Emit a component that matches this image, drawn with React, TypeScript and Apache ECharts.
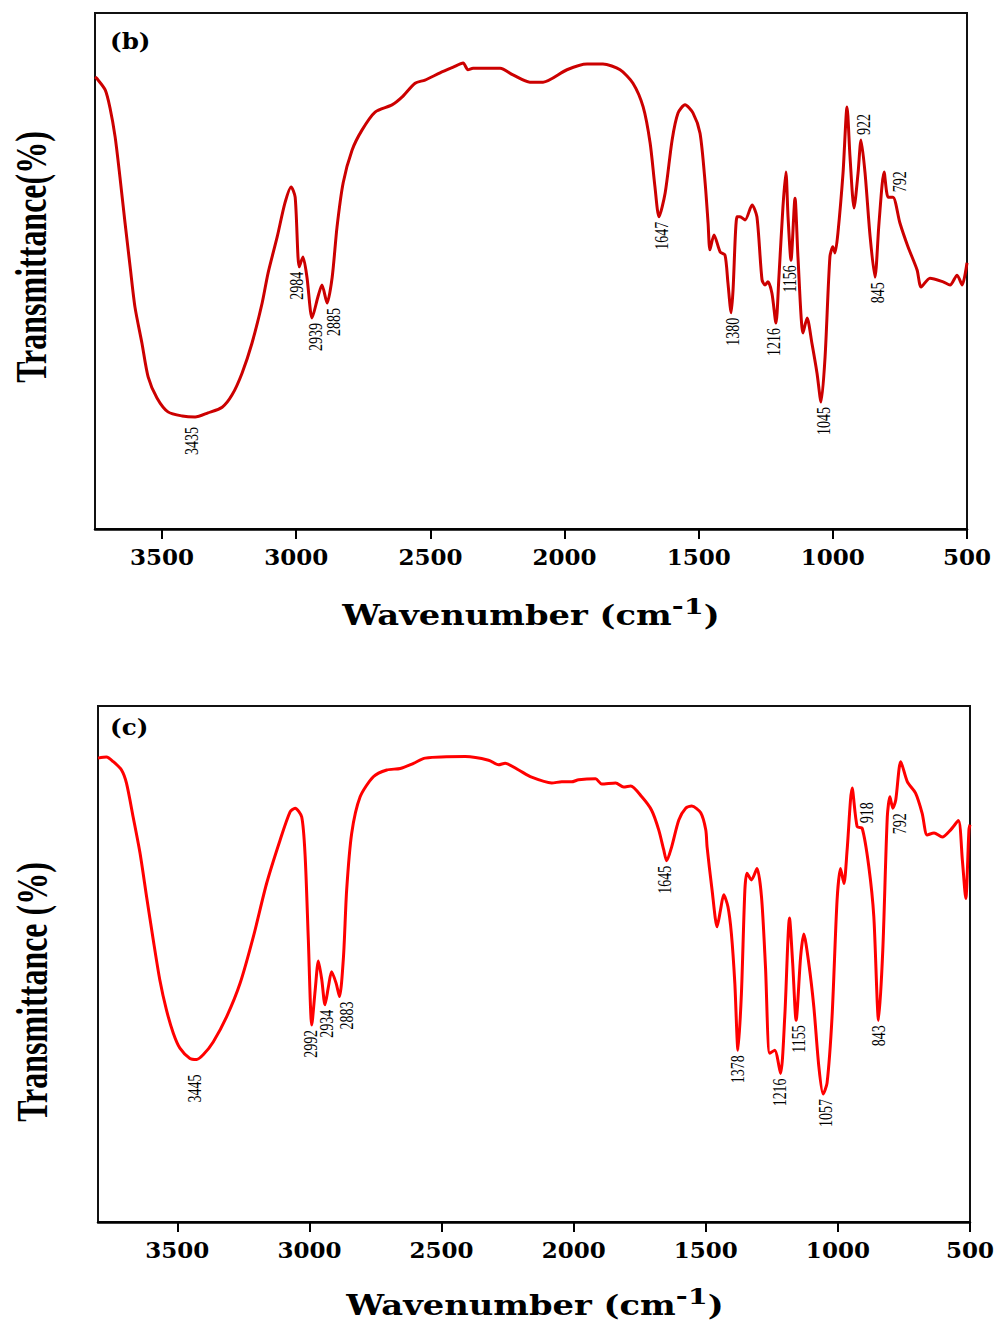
import React, { useEffect, useRef } from 'react';
import * as echarts from 'echarts';

// Tick values on both wavenumber axes
const X_TICKS = [500, 1000, 1500, 2000, 2500, 3000, 3500];

// Panel (b) spectrum: [wavenumber (cm-1), transmittance (arb. %)]
const SPECTRUM_B: [number, number][] = [
  [3750, 87.6], [3743, 87.3], [3712, 85.1], [3694, 81.6], [3675, 76.0], [3657, 68.2], [3638, 59.3],
  [3619, 50.8], [3601, 43.0], [3575, 36.0], [3552, 29.5], [3519, 25.4], [3478, 22.7], [3425, 21.9],
  [3377, 21.7], [3329, 22.5], [3276, 23.6], [3239, 26.0], [3202, 30.2], [3165, 36.0], [3127, 43.8],
  [3105, 49.6], [3071, 56.6], [3042, 63.2], [3019, 66.3], [3004, 64.3], [2989, 50.8], [2975, 52.7],
  [2960, 48.8], [2941, 40.9], [2919, 45.0], [2904, 47.3], [2885, 43.8], [2866, 48.8], [2848, 58.5],
  [2825, 67.1], [2792, 73.4], [2755, 77.3], [2706, 80.8], [2643, 82.2], [2606, 83.7], [2557, 86.4],
  [2520, 87.0], [2464, 88.4], [2415, 89.5], [2378, 90.3], [2360, 89.0], [2341, 89.3], [2266, 89.3],
  [2240, 89.3], [2192, 88.0], [2129, 86.6], [2080, 86.6], [1991, 89.0], [1916, 90.1], [1857, 90.1],
  [1793, 89.0], [1745, 86.4], [1707, 81.8], [1681, 74.8], [1663, 66.3], [1648, 60.5], [1625, 65.1],
  [1599, 75.4], [1577, 80.6], [1551, 82.2], [1521, 80.6], [1495, 76.7], [1476, 67.1], [1465, 59.3],
  [1458, 54.1], [1443, 57.0], [1420, 53.7], [1402, 53.1], [1391, 47.7], [1379, 41.9], [1372, 46.3],
  [1357, 60.5], [1346, 60.5], [1327, 59.9], [1301, 62.8], [1283, 60.5], [1264, 48.3], [1253, 47.3],
  [1242, 47.9], [1227, 45.7], [1212, 39.9], [1201, 48.8], [1186, 62.4], [1175, 69.2], [1167, 60.5],
  [1156, 52.1], [1141, 64.1], [1130, 52.7], [1111, 38.0], [1096, 40.9], [1078, 36.0], [1059, 30.2],
  [1044, 24.6], [1029, 33.3], [1011, 52.7], [1000, 54.7], [992, 53.5], [981, 57.4], [962, 69.0],
  [947, 81.8], [936, 72.1], [921, 62.2], [906, 69.0], [895, 75.4], [880, 69.0], [861, 56.6],
  [843, 48.8], [828, 59.3], [809, 69.2], [794, 64.3], [776, 64.3], [750, 59.3], [720, 54.7],
  [686, 50.2], [671, 46.9], [638, 48.6], [589, 47.9], [563, 47.3], [537, 49.2], [518, 47.3], [500, 51.6],
];

// Panel (c) spectrum
const SPECTRUM_C: [number, number][] = [
  [3800, 89.9], [3768, 90.1], [3742, 89.2], [3711, 87.6], [3692, 85.0], [3667, 78.5], [3641, 71.5],
  [3616, 63.0], [3591, 54.7], [3566, 46.9], [3541, 41.1], [3515, 36.6], [3490, 33.7], [3452, 31.7],
  [3427, 31.5], [3402, 32.4], [3364, 34.9], [3313, 39.8], [3262, 46.3], [3212, 55.3], [3162, 65.6],
  [3111, 74.0], [3073, 79.5], [3054, 80.2], [3029, 78.5], [3016, 70.8], [3004, 54.7], [2991, 38.2],
  [2978, 45.0], [2966, 50.6], [2953, 46.9], [2941, 42.1], [2928, 45.6], [2916, 48.5], [2899, 46.3],
  [2886, 43.7], [2871, 51.4], [2859, 64.3], [2840, 75.3], [2808, 82.4], [2758, 86.3], [2707, 87.6],
  [2656, 87.9], [2606, 88.9], [2562, 89.9], [2410, 90.2], [2322, 89.5], [2284, 88.6], [2259, 88.9],
  [2208, 87.6], [2159, 86.2], [2083, 85.1], [2045, 85.3], [2008, 85.3], [1981, 85.7], [1917, 85.9],
  [1894, 84.9], [1841, 85.1], [1811, 84.3], [1784, 84.5], [1742, 82.4], [1705, 79.8], [1678, 76.0],
  [1659, 72.1], [1648, 70.0], [1629, 72.7], [1602, 77.9], [1576, 80.2], [1553, 80.6], [1519, 79.3],
  [1500, 76.0], [1495, 72.7], [1476, 64.3], [1457, 57.2], [1444, 60.5], [1432, 63.4], [1416, 61.1],
  [1403, 55.9], [1390, 46.3], [1378, 33.3], [1365, 44.3], [1352, 64.3], [1344, 67.6], [1327, 66.3],
  [1306, 68.5], [1289, 63.0], [1274, 49.5], [1258, 32.7], [1239, 33.3], [1217, 28.8], [1201, 39.8],
  [1183, 58.9], [1171, 50.1], [1158, 39.1], [1141, 51.4], [1129, 55.8], [1110, 50.1], [1091, 41.7],
  [1072, 30.1], [1056, 24.8], [1041, 26.9], [1022, 39.8], [1003, 62.4], [990, 68.5], [977, 65.6],
  [965, 72.1], [946, 84.1], [927, 76.6], [908, 76.3], [883, 68.9], [864, 59.2], [846, 39.1],
  [830, 52.7], [813, 78.5], [803, 82.4], [792, 80.2], [781, 81.8], [762, 89.2], [737, 85.3],
  [706, 83.1], [681, 79.2], [662, 75.0], [636, 75.4], [605, 74.6], [573, 76.0], [544, 77.8],
  [529, 70.2], [516, 62.7], [504, 76.0], [500, 77.0],
];

// Peak annotations: [label text, wavenumber where it sits on the plotted curve, side]
type Side = 'below' | 'above';
const PEAKS_B: [string, number, Side][] = [
  ['3435', 3388, 'below'], ['2984', 2997, 'below'], ['2939', 2926, 'below'], ['2885', 2859, 'below'],
  ['1647', 1637, 'below'], ['1380', 1372, 'below'], ['1216', 1216, 'below'], ['1156', 1160, 'below'],
  ['1045', 1033, 'below'], ['845', 832, 'below'], ['922', 884, 'above'], ['792', 750, 'above'],
];
const PEAKS_C: [string, number, Side][] = [
  ['3445', 3432, 'below'], ['2992', 2992, 'below'], ['2934', 2932, 'below'], ['2883', 2856, 'below'],
  ['1645', 1652, 'below'], ['1378', 1375, 'below'], ['1216', 1216, 'below'], ['1155', 1144, 'below'],
  ['1057', 1042, 'below'], ['843', 841, 'below'], ['918', 890, 'above'], ['792', 765, 'below'],
];

const LABEL_GAP: Record<string, number> = { '3435': 10, '3445': 15 };

const TICK_FONT = 'DejaVu Serif';

function xAxis(gridIndex: number, max: number) {
  return {
    type: 'value',
    gridIndex,
    min: 500,
    max,
    interval: 500,
    inverse: true,
    axisLine: { show: true, onZero: false, lineStyle: { color: '#000', width: 2.5 } },
    axisTick: { show: true, length: 10, inside: false, customValues: X_TICKS, lineStyle: { color: '#000', width: 2 } },
    axisLabel: {
      show: true, margin: 16, color: '#000', fontFamily: TICK_FONT, fontWeight: 'bold', fontSize: 23,
      customValues: X_TICKS,
      formatter: (v: number) => (v % 500 === 0 ? String(v) : ''),
    },
    splitLine: { show: false },
  };
}

function yAxis(gridIndex: number) {
  return { type: 'value', gridIndex, min: 0, max: 100, show: false };
}

export default function App() {
  const ref = useRef<HTMLDivElement>(null);

  useEffect(() => {
    document.body.style.margin = '0';
    const chart = echarts.init(ref.current!, null, { renderer: 'svg' });
    const option: any = {
      animation: false,
      backgroundColor: '#ffffff',
      grid: [
        { left: 95, top: 13, width: 872, height: 516, show: true, borderColor: '#111', borderWidth: 2 },
        { left: 98, top: 706, width: 873, height: 516, show: true, borderColor: '#111', borderWidth: 2 },
      ],
      xAxis: [xAxis(0, 3750), xAxis(1, 3800)],
      yAxis: [yAxis(0), yAxis(1)],
      series: [
        {
          type: 'line', xAxisIndex: 0, yAxisIndex: 0, data: SPECTRUM_B, showSymbol: false, symbol: 'none',
          smooth: 0.25, lineStyle: { color: '#cc0000', width: 3 },
        },
        {
          type: 'line', xAxisIndex: 1, yAxisIndex: 1, data: SPECTRUM_C, showSymbol: false, symbol: 'none',
          smooth: 0.25, lineStyle: { color: '#ff0000', width: 3 },
        },
      ],
    };
    chart.setOption(option);

    const peakLabels = (peaks: [string, number, Side][], data: [number, number][], idx: number) =>
      peaks.map(([text, wn, side]) => {
        const near = data.filter((p) => Math.abs(p[0] - wn) <= 30).map((p) => p[1]);
        const val = side === 'below' ? Math.min(...near) : Math.max(...near);
        const [px, py] = chart.convertToPixel({ xAxisIndex: idx, yAxisIndex: idx }, [wn, val]) as number[];
        const gap = LABEL_GAP[text] ?? 5;
        const align = side === 'below' ? 'right' : 'left';
        return {
          type: 'text',
          x: px,
          y: side === 'below' ? py + gap : py - gap,
          rotation: Math.PI / 2,
          scaleY: 1.3,
          style: {
            text, fill: '#000', fontSize: 14, fontFamily: 'Liberation Serif',
            align, verticalAlign: 'middle', textAlign: align, textVerticalAlign: 'middle',
          },
        };
      });

    const xTitle = (cx: number, cy: number) => ({
      type: 'text',
      x: cx,
      y: cy,
      scaleX: 1.25,
      style: {
        text: '{m|Wavenumber (cm}{s|-1}{m|)}',
        align: 'center', verticalAlign: 'middle', textAlign: 'center', textVerticalAlign: 'middle',
        rich: {
          m: { fontSize: 27, fontFamily: TICK_FONT, fontWeight: 'bold', fill: '#000', lineHeight: 34, verticalAlign: 'bottom' },
          s: { fontSize: 23, fontFamily: TICK_FONT, fontWeight: 'bold', fill: '#000', lineHeight: 23, verticalAlign: 'top' },
        },
      },
    });

    const yTitle = (text: string, cx: number, cy: number) => ({
      type: 'text',
      x: cx,
      y: cy,
      rotation: Math.PI / 2,
      scaleY: 1.38,
      style: {
        text, fill: '#000', fontSize: 32, fontFamily: 'Liberation Serif', fontWeight: 'bold',
        align: 'center', verticalAlign: 'middle', textAlign: 'center', textVerticalAlign: 'middle',
      },
    });

    const panelTag = (text: string, lx: number, cy: number) => ({
      type: 'text',
      x: lx,
      y: cy,
      scaleX: 1.12,
      style: {
        text, fill: '#000', fontSize: 22, fontFamily: TICK_FONT, fontWeight: 'bold',
        align: 'left', verticalAlign: 'middle', textAlign: 'left', textVerticalAlign: 'middle',
      },
    });

    chart.setOption({
      graphic: [
        ...peakLabels(PEAKS_B, SPECTRUM_B, 0),
        ...peakLabels(PEAKS_C, SPECTRUM_C, 1),
        xTitle(531, 612),
        xTitle(535, 1302),
        yTitle('Transmittance(%)', 31, 257),
        yTitle('Transmittance (%)', 32, 992),
        panelTag('(b)', 110, 41),
        panelTag('(c)', 110, 727),
      ],
    });

    return () => chart.dispose();
  }, []);

  return <div ref={ref} style={{ width: 997, height: 1322 }} />;
}
